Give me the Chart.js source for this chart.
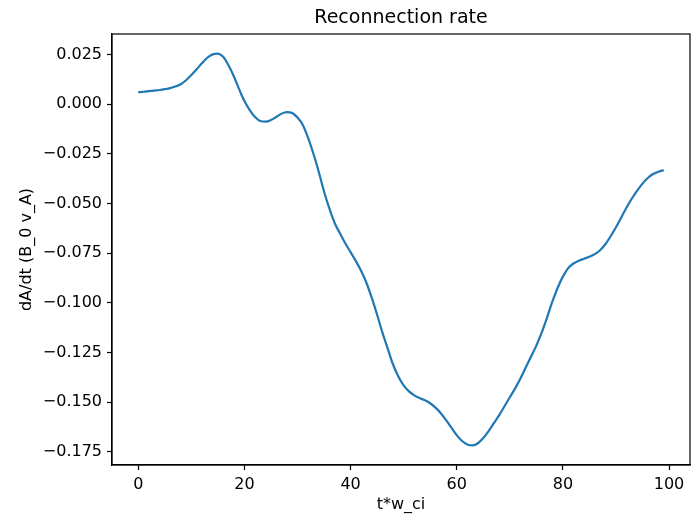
<!DOCTYPE html>
<html>
<head>
<meta charset="utf-8">
<script src="https://cdn.jsdelivr.net/npm/chart.js@4/dist/chart.umd.min.js"></script>
<style>
  html, body { margin: 0; padding: 0; background: #ffffff; }
  canvas { display: block; }
</style>
</head>
<body>
<canvas id="rate" width="691" height="519"></canvas>
<script>
// Time in units of 1/w_ci
const timeSteps = Array.from({ length: 100 }, (_, i) => i);

// Reconnection rate dA/dt in units of B_0 v_A
const reconnectionRate = [
  0.0060, 0.0062, 0.0065, 0.0068, 0.0071, 0.0075, 0.0080, 0.0088, 0.0100, 0.0120,
  0.0146, 0.0175, 0.0205, 0.0233, 0.0250, 0.0254, 0.0238, 0.0195, 0.0140, 0.0075,
  0.0015, -0.0030, -0.0065, -0.0085, -0.0088, -0.0080, -0.0065, -0.0048, -0.0040, -0.0045,
  -0.0068, -0.0105, -0.0170, -0.0250, -0.0340, -0.0440, -0.0525, -0.0598, -0.0650, -0.0700,
  -0.0745, -0.0790, -0.0840, -0.0900, -0.0975, -0.1060, -0.1150, -0.1230, -0.1310, -0.1370,
  -0.1415, -0.1445, -0.1465, -0.1479, -0.1490, -0.1505, -0.1527, -0.1555, -0.1590, -0.1628,
  -0.1665, -0.1695, -0.1712, -0.1717, -0.1706, -0.1680, -0.1645, -0.1605, -0.1565, -0.1520,
  -0.1475, -0.1430, -0.1380, -0.1325, -0.1270, -0.1215, -0.1150, -0.1075, -0.0995, -0.0925,
  -0.0868, -0.0825, -0.0802, -0.0788, -0.0778, -0.0768, -0.0755, -0.0735, -0.0705, -0.0665,
  -0.0620, -0.0570, -0.0520, -0.0475, -0.0435, -0.0400, -0.0372, -0.0352, -0.0340, -0.0332
];

const xTicks = [0, 20, 40, 60, 80, 100];
const yTicks = [-0.175, -0.150, -0.125, -0.100, -0.075, -0.050, -0.025, 0.000, 0.025];

const titleText = 'Reconnection rate';
const xLabel = 't*w_ci';
const yLabel = 'dA/dt (B_0 v_A)';

const FONT = '"DejaVu Sans", "Liberation Sans", sans-serif';
const INK = '#000000';

// Autoscale limits with a 5% margin on each side
const tMin = Math.min(...timeSteps), tMax = Math.max(...timeSteps);
const rMin = Math.min(...reconnectionRate), rMax = Math.max(...reconnectionRate);
const tPad = (tMax - tMin) * 0.05, rPad = (rMax - rMin) * 0.05;

const points = timeSteps.map((t, i) => ({ x: t, y: reconnectionRate[i] }));

// Frame, title and axis labels
const decorations = {
  id: 'decorations',
  afterDraw(chart) {
    const { ctx, chartArea: a } = chart;
    ctx.save();
    ctx.strokeStyle = INK;
    ctx.lineWidth = 1.2;
    ctx.strokeRect(a.left, a.top, a.right - a.left, a.bottom - a.top);

    ctx.fillStyle = INK;
    ctx.textAlign = 'center';
    ctx.textBaseline = 'middle';
    ctx.font = '19px ' + FONT;
    ctx.fillText(titleText, (a.left + a.right) / 2, 18);

    ctx.font = '16px ' + FONT;
    ctx.fillText(xLabel, (a.left + a.right) / 2, 505);

    ctx.translate(27, (a.top + a.bottom) / 2);
    ctx.rotate(-Math.PI / 2);
    ctx.fillText(yLabel, 0, 0);
    ctx.restore();
  }
};

const fmt = v => {
  const s = Math.abs(v) < 1e-9 ? '0.000' : v.toFixed(3);
  return s.replace('-', '\u2212');
};

new Chart(document.getElementById('rate'), {
  type: 'line',
  data: {
    datasets: [{
      data: points,
      borderColor: '#1f77b4',
      borderWidth: 2.2,
      pointRadius: 0,
      cubicInterpolationMode: 'monotone',
      fill: false
    }]
  },
  options: {
    responsive: false,
    animation: false,
    layout: { padding: { left: 0, right: 1, top: 34, bottom: 0 } },
    plugins: { legend: { display: false }, tooltip: { enabled: false }, title: { display: false } },
    scales: {
      x: {
        type: 'linear',
        min: tMin - tPad,
        max: tMax + tPad,
        afterBuildTicks: s => { s.ticks = xTicks.map(v => ({ value: v })); },
        afterFit: s => { s.height = 54; },
        grid: { drawOnChartArea: false, drawTicks: true, tickLength: 5, tickColor: INK, tickWidth: 1.2 },
        border: { display: true, color: INK, width: 1.2 },
        ticks: {
          color: INK, padding: 5, maxRotation: 0, autoSkip: false,
          font: { family: FONT, size: 16 },
          callback: v => String(v)
        }
      },
      y: {
        type: 'linear',
        min: rMin - rPad,
        max: rMax + rPad,
        afterBuildTicks: s => { s.ticks = yTicks.map(v => ({ value: v })); },
        afterFit: s => { s.width = 112; },
        grid: { drawOnChartArea: false, drawTicks: true, tickLength: 5, tickColor: INK, tickWidth: 1.2 },
        border: { display: true, color: INK, width: 1.2 },
        ticks: {
          color: INK, padding: 5, autoSkip: false,
          font: { family: FONT, size: 16 },
          callback: v => fmt(v)
        }
      }
    }
  },
  plugins: [decorations]
});
</script>
</body>
</html>
